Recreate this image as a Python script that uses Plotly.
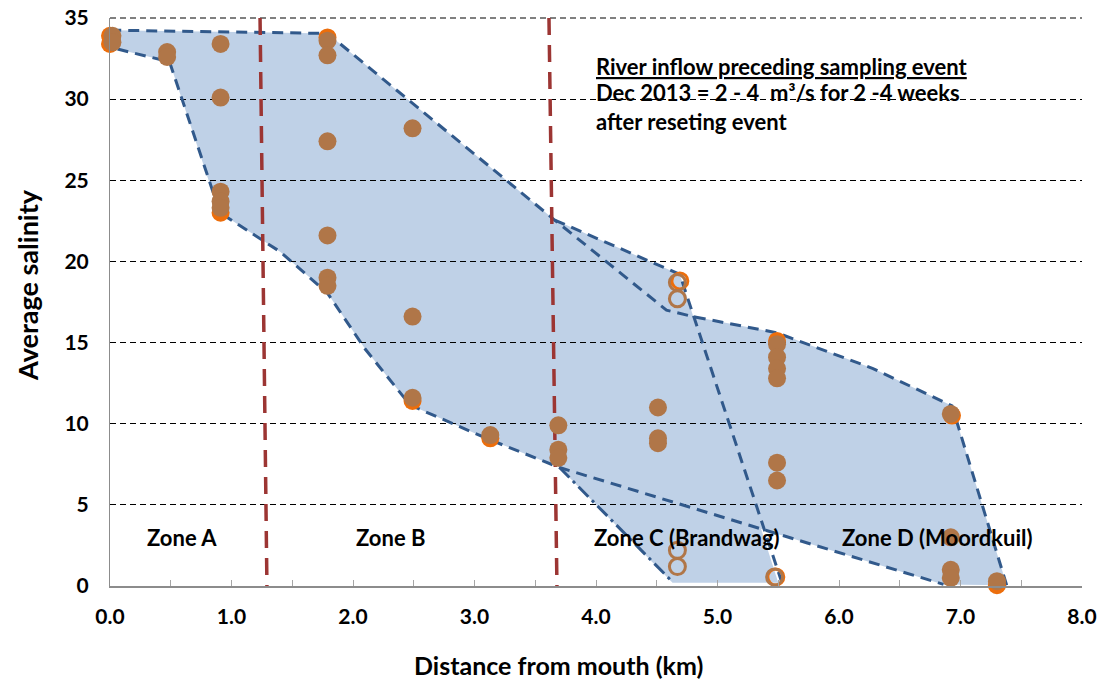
import plotly.graph_objects as go

# ---------------- data ----------------
# orange series (mostly hidden behind the brown one)
orange_x = [0.0, 0.0, 0.91, 1.79, 2.49, 3.13, 5.49, 6.93, 7.30]
orange_y = [33.9, 33.4, 23.0, 33.8, 11.4, 9.1, 15.1, 10.5, 0.05]

# brown series (filled)
brown_x = [0.02, 0.02, 0.47, 0.47, 0.91, 0.91, 0.91, 0.91, 0.91,
           1.79, 1.79, 1.79, 1.79, 1.79, 1.79,
           2.49, 2.49, 2.49, 3.13, 3.69, 3.69, 3.69,
           4.51, 4.51, 4.51,
           5.49, 5.49, 5.49, 5.49, 5.49, 5.49,
           6.92, 6.92, 6.92, 6.92, 7.30]
brown_y = [33.9, 33.5, 32.9, 32.6, 33.4, 30.1, 24.3, 23.7, 23.3,
           33.6, 32.7, 27.4, 21.6, 19.0, 18.5,
           28.2, 16.6, 11.6, 9.3, 9.9, 8.4, 7.9,
           11.0, 9.1, 8.8,
           14.9, 14.1, 13.4, 12.8, 7.6, 6.5,
           10.6, 3.0, 1.0, 0.5, 0.3]

# open circles
open_brown_x = [4.67, 4.67, 4.67, 4.67, 5.47]
open_brown_y = [18.7, 17.7, 2.2, 1.2, 0.55]
open_orange_x = [4.69, 5.48]
open_orange_y = [18.8, 0.55]

# envelope of all zones (outline drawn without bottom edge)
env_x = [7.38, 6.93, 6.28, 5.49, 4.80, 4.58, 3.66, 1.79, 0.0, 0.0, 0.49, 0.82, 0.905,
         1.40, 1.79, 2.10, 2.47, 3.13, 3.70, 6.86]
env_y = [0.05, 11.1, 13.4, 15.6, 16.6, 17.0, 22.55, 34.05, 34.25, 33.2, 32.3, 24.8, 23.0,
         20.6, 18.05, 14.6, 11.15, 9.0, 7.3, 0.1]

# Zone C (Brandwag) envelope
zc_x = [3.66, 4.69, 5.50, 4.63, 3.70]
zc_y = [22.55, 19.2, 0.2, 0.2, 7.3]
zc_top_x = [3.66, 4.69, 5.55]
zc_top_y = [22.55, 19.2, -0.25]
zc_low_x = [3.70, 4.63]
zc_low_y = [7.3, 0.25]

# zone boundaries (red dashed lines)
zone1_x = [1.235, 1.292]
zone2_x = [3.613, 3.679]
zone_line_y = [35.0, -0.2]

zone_labels = ["Zone A", "Zone B", "Zone C (Brandwag)", "Zone D (Moordkuil)"]
zone_label_x = [0.59, 2.31, 4.75, 6.81]
zone_label_y = [3.0, 3.0, 3.0, 3.0]

note_lines = ["<u>River inflow preceding sampling event</u>",
              "Dec 2013 = 2 - 4  m³/s for 2 -4 weeks",
              "after reseting event"]
note_y = [32.0, 30.4, 28.6]
note_x = 3.98

x_title = "Distance from mouth (km)"
y_title = "Average salinity"

x_ticks = [0, 1, 2, 3, 4, 5, 6, 7, 8]
y_ticks = [0, 5, 10, 15, 20, 25, 30, 35]

FONT = "Lato, Carlito, 'Open Sans', sans-serif"
FILL = "#BFD1E7"
BLUE = "#31598B"
RED = "#9C3533"
BROWN = "#B07648"
ORANGE = "#EC6E0C"

fig = go.Figure()


def path_from(xs, ys):
    p = "M %f,%f " % (xs[0], ys[0])
    for a, b in zip(xs[1:], ys[1:]):
        p += "L %f,%f " % (a, b)
    return p + "Z"


# fills below gridlines
fig.add_shape(type="path", path=path_from(env_x, env_y), xref="x", yref="y",
              fillcolor=FILL, line=dict(width=0), layer="below")
fig.add_shape(type="path", path=path_from(zc_x, zc_y), xref="x", yref="y",
              fillcolor=FILL, line=dict(width=0), layer="below")
# top dashed gridline along the upper edge of the plot area
fig.add_shape(type="line", xref="paper", x0=0, x1=1, yref="paper", y0=1, y1=1,
              line=dict(color="black", width=1, dash="6px,4px"), layer="below")

dash = "11px,7px"
fig.add_trace(go.Scatter(x=env_x, y=env_y, mode="lines", line=dict(color=BLUE, width=3, dash=dash),
                         hoverinfo="skip", showlegend=False, cliponaxis=False))
fig.add_trace(go.Scatter(x=zc_top_x, y=zc_top_y, mode="lines", line=dict(color=BLUE, width=3, dash=dash),
                         hoverinfo="skip", showlegend=False, cliponaxis=False))
fig.add_trace(go.Scatter(x=zc_low_x, y=zc_low_y, mode="lines",
                         line=dict(color=BLUE, width=3, dash="14px,5px,3px,5px"),
                         hoverinfo="skip", showlegend=False, cliponaxis=False))

for zx in (zone1_x, zone2_x):
    fig.add_trace(go.Scatter(x=zx, y=zone_line_y, mode="lines",
                             line=dict(color=RED, width=3.5, dash="17px,10px"),
                             hoverinfo="skip", showlegend=False, cliponaxis=False))

fig.add_trace(go.Scatter(x=orange_x, y=orange_y, mode="markers",
                         marker=dict(color=ORANGE, size=18, line=dict(width=0)),
                         showlegend=False, cliponaxis=False))
fig.add_trace(go.Scatter(x=open_orange_x, y=open_orange_y, mode="markers",
                         marker=dict(symbol="circle-open", color=ORANGE, size=16, line=dict(width=3)),
                         showlegend=False, cliponaxis=False))
fig.add_trace(go.Scatter(x=brown_x, y=brown_y, mode="markers",
                         marker=dict(color=BROWN, size=18, line=dict(width=0)),
                         showlegend=False, cliponaxis=False))
fig.add_trace(go.Scatter(x=open_brown_x, y=open_brown_y, mode="markers",
                         marker=dict(symbol="circle-open", color=BROWN, size=16, line=dict(width=3)),
                         showlegend=False, cliponaxis=False))

for t, x, y in zip(zone_labels, zone_label_x, zone_label_y):
    fig.add_annotation(x=x, y=y, xref="x", yref="y", text="<b>%s</b>" % t, showarrow=False,
                       font=dict(family=FONT, size=22, color="black"))

for t, y in zip(note_lines, note_y):
    fig.add_annotation(x=note_x, y=y, xref="x", yref="y", text="<b>%s</b>" % t, showarrow=False,
                       xanchor="left", font=dict(family=FONT, size=22, color="black"))

# axis titles (placed like the reference, which is not centred on the plot area)
fig.add_annotation(x=0.461, y=0, xref="paper", yref="paper", yshift=-79, yanchor="middle",
                   text="<b>%s</b>" % x_title, showarrow=False,
                   font=dict(family=FONT, size=25, color="black"))
fig.add_annotation(x=0, y=0.53, xref="paper", yref="paper", xshift=-82, xanchor="center",
                   yanchor="middle", textangle=-90, text="<b>%s</b>" % y_title, showarrow=False,
                   font=dict(family=FONT, size=27, color="black"))

fig.update_layout(
    width=1102, height=689,
    margin=dict(l=110, r=20, t=18, b=103, autoexpand=False),
    paper_bgcolor="white", plot_bgcolor="white",
    font=dict(family=FONT, color="black"),
    showlegend=False,
)
fig.update_xaxes(range=[0, 8], tickvals=x_ticks, ticktext=["<b>%.1f</b>" % v for v in x_ticks],
                 showgrid=False, zeroline=False, showline=True, linecolor="#8C8C8C", linewidth=1.5,
                 ticks="inside", ticklen=6, tickcolor="#A6A6A6", tickwidth=1,
                 minor=dict(dtick=0.5, ticks="inside", ticklen=6, tickcolor="#A6A6A6", showgrid=False),
                 tickfont=dict(size=21, family=FONT), ticklabelstandoff=11, automargin=False,
                 ticklabeloverflow="allow")
fig.update_yaxes(range=[0, 35], tickvals=y_ticks, ticktext=["<b>%d</b>" % v for v in y_ticks],
                 showgrid=True, gridcolor="black", gridwidth=1, griddash="6px,4px",
                 zeroline=False, showline=True, linecolor="#8C8C8C", linewidth=1,
                 ticks="", tickfont=dict(size=21, family=FONT), ticklabelstandoff=16, automargin=False,
                 ticklabeloverflow="allow")

# remove the page's default 8px body margin so the figure sits at the window's corner
fig.write_html("out.html", config={"displayModeBar": False},
               post_script="document.body.style.margin='0';")
